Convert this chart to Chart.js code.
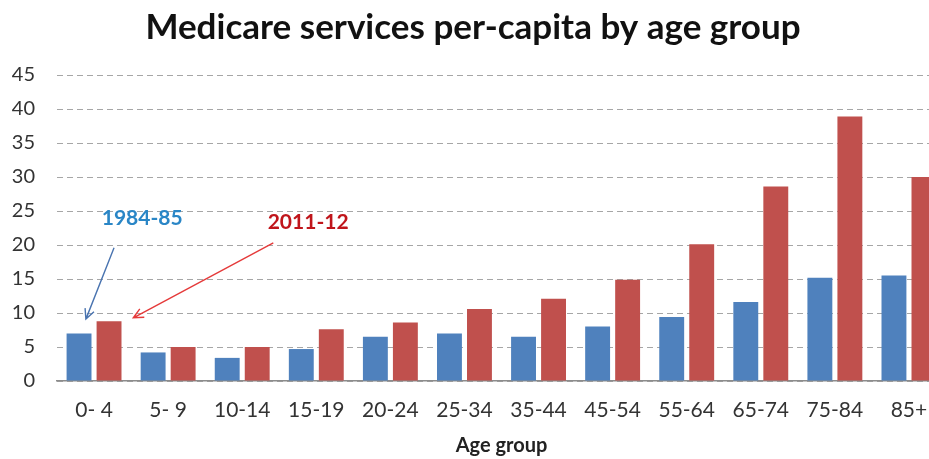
<!DOCTYPE html>
<html>
<head>
<meta charset="utf-8">
<script src="https://cdn.jsdelivr.net/npm/chart.js@4"></script>
<style>
  html, body { margin: 0; padding: 0; background: #fff; overflow: hidden; }
  #wrap { width: 929px; height: 459px; overflow: hidden; }
  #box { width: 960px; height: 459px; }
</style>
</head>
<body>
<div id="wrap"><div id="box"><canvas id="medicareChart"></canvas></div></div>
<script>
// Medicare services per-capita by age group

const ageGroups = ['0- 4','5- 9','10-14','15-19','20-24','25-34','35-44','45-54','55-64','65-74','75-84','85+'];
const services1984 = [7.0, 4.2, 3.4, 4.7, 6.5, 7.0, 6.5, 8.0, 9.4, 11.6, 15.2, 15.5];
const services2011 = [8.8, 5.0, 5.0, 7.6, 8.6, 10.6, 12.1, 14.9, 20.1, 28.6, 38.9, 30.0];
const seriesNames = ['1984-85', '2011-12'];

// callouts: label spot and arrow, in (category index, value) units
const callouts = [
  { text: seriesNames[0], color: '#2a86c6', arrow: '#4a74b0', label: [0.65, 24.0], from: [0.27, 19.6], to: [-0.11, 9.1] },
  { text: seriesNames[1], color: '#c0151b', arrow: '#e53a3a', label: [2.89, 23.4], from: [2.42, 20.3], to: [0.53, 9.3] }
];

const FONT = "Lato, 'Open Sans', sans-serif";

const calloutPlugin = {
  id: 'callouts',
  afterDatasetsDraw(chart) {
    const ctx = chart.ctx;
    const xs = chart.scales.x, ys = chart.scales.y;
    ctx.save();
    callouts.forEach(c => {
      ctx.font = 'bold 21px ' + FONT;
      ctx.fillStyle = c.color;
      ctx.textAlign = 'center';
      ctx.textBaseline = 'middle';
      ctx.fillText(c.text, xs.getPixelForValue(c.label[0]), ys.getPixelForValue(c.label[1]));

      const x1 = xs.getPixelForValue(c.from[0]), y1 = ys.getPixelForValue(c.from[1]);
      const x2 = xs.getPixelForValue(c.to[0]), y2 = ys.getPixelForValue(c.to[1]);
      const a = Math.atan2(y2 - y1, x2 - x1);
      ctx.strokeStyle = c.arrow;
      ctx.lineWidth = 1.4;
      ctx.beginPath();
      ctx.moveTo(x1, y1);
      ctx.lineTo(x2, y2);
      ctx.moveTo(x2 - 11 * Math.cos(a - 0.45), y2 - 11 * Math.sin(a - 0.45));
      ctx.lineTo(x2, y2);
      ctx.lineTo(x2 - 11 * Math.cos(a + 0.45), y2 - 11 * Math.sin(a + 0.45));
      ctx.stroke();
    });
    ctx.restore();
  }
};

new Chart(document.getElementById('medicareChart'), {
  type: 'bar',
  data: {
    labels: ageGroups,
    datasets: [
      { label: seriesNames[0], data: services1984, backgroundColor: '#4f81bd', categoryPercentage: 0.81, barPercentage: 0.83 },
      { label: seriesNames[1], data: services2011, backgroundColor: '#c0504d', categoryPercentage: 0.81, barPercentage: 0.83 }
    ]
  },
  options: {
    responsive: true,
    maintainAspectRatio: false,
    animation: false,
    layout: { padding: { top: 0, right: 14, bottom: 0, left: 0 } },
    plugins: {
      legend: { display: false },
      tooltip: { enabled: false },
      title: {
        display: true,
        text: 'Medicare services per-capita by age group',
        color: '#111',
        font: { family: FONT, size: 35, weight: 'bold' },
        padding: { top: 7, bottom: 26 }
      }
    },
    scales: {
      x: {
        grid: { display: false, drawTicks: false },
        border: { display: true, color: '#8c8c8c', width: 1.5 },
        ticks: { color: '#333', padding: 17, font: { family: FONT, size: 21 }, maxRotation: 0, autoSkip: false },
        title: { display: true, text: 'Age group', color: '#222', font: { family: FONT, size: 20, weight: 'bold' }, padding: { top: 4, bottom: 1 } },
        afterFit(scale) { scale.height = 78; }
      },
      y: {
        min: 0,
        max: 45,
        ticks: { stepSize: 5, color: '#333', padding: 22, font: { family: FONT, size: 20 } },
        grid: { color: '#a6a6a6', lineWidth: 1, drawTicks: false },
        border: { display: false, dash: [6, 4] },
        afterFit(scale) { scale.width = 57; }
      }
    }
  },
  plugins: [calloutPlugin]
});
</script>
</body>
</html>
